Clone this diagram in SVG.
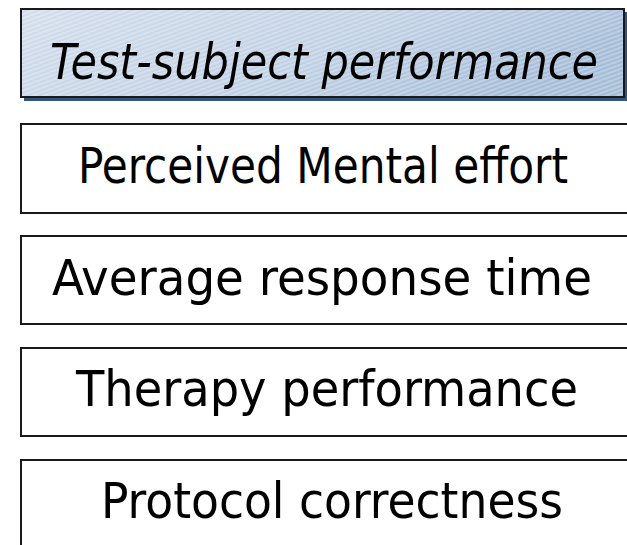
<svg xmlns="http://www.w3.org/2000/svg" width="627" height="545" viewBox="0 0 627 545">
<defs>
<linearGradient id="g" x1="0" y1="0" x2="1" y2="0.3">
<stop offset="0" stop-color="#d3deec"/>
<stop offset="0.6" stop-color="#c0d0e4"/>
<stop offset="1" stop-color="#a6bdd8"/>
</linearGradient>
<pattern id="h" width="8" height="4" patternUnits="userSpaceOnUse" patternTransform="rotate(-20)">
<line x1="0" y1="1" x2="8" y2="1" stroke="#ffffff" stroke-opacity="0.5" stroke-width="1"/>
</pattern>
</defs>
<style>
.box{fill:#ffffff;stroke:#1a1a1a;stroke-width:2}
.t{font-family:"DejaVu Sans Condensed","DejaVu Sans",sans-serif;font-size:49px;fill:#000;text-anchor:middle}
</style>
<g id="title">
<rect x="24" y="12" width="603" height="89" fill="#33557d"/>
<rect x="21" y="9" width="603" height="88" fill="url(#g)"/>
<rect x="21" y="9" width="603" height="88" fill="url(#h)"/>
<rect x="21" y="9" width="603" height="88" fill="none" stroke="#1a1a1a" stroke-width="2"/>
<text class="t" x="324" y="79" font-style="italic" textLength="548" lengthAdjust="spacingAndGlyphs">Test-subject performance</text>
</g>
<g id="n1">
<rect class="box" x="21" y="124" width="620" height="89"/>
<text class="t" x="323" y="183" textLength="490" lengthAdjust="spacingAndGlyphs">Perceived Mental effort</text>
</g>
<g id="n2">
<rect class="box" x="21" y="236" width="620" height="88"/>
<text class="t" x="322" y="295" textLength="540" lengthAdjust="spacingAndGlyphs">Average response time</text>
</g>
<g id="n3">
<rect class="box" x="21" y="348" width="620" height="88"/>
<text class="t" x="327" y="406" textLength="502" lengthAdjust="spacingAndGlyphs">Therapy performance</text>
</g>
<g id="n4">
<rect class="box" x="21" y="460" width="620" height="100"/>
<text class="t" x="332" y="518" textLength="462" lengthAdjust="spacingAndGlyphs">Protocol correctness</text>
</g>
<g id="connectors"/>
</svg>
